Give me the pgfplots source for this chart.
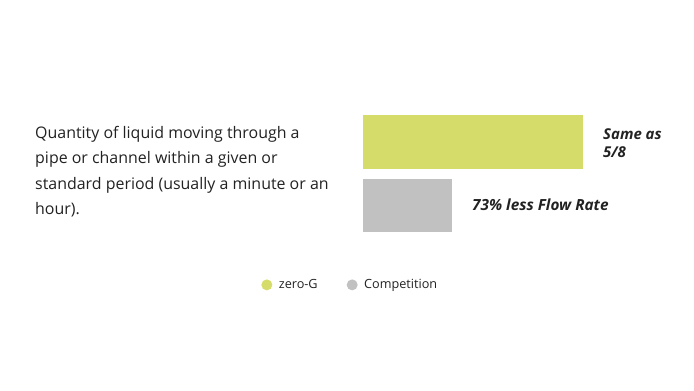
\documentclass[border=0pt]{standalone}
\usepackage{pgfplots}
\pgfplotsset{compat=1.18}
\usepackage{fontspec}
\setmainfont{Open Sans}
\definecolor{zgreen}{HTML}{D5DC69}
\definecolor{cgray}{HTML}{C1C1C1}
\definecolor{txt}{HTML}{222222}
\begin{document}
\begin{tikzpicture}[x=1bp,y=1bp]
\path[use as bounding box] (0,0) rectangle (694,390);
\begin{axis}[
  at={(363bp,152.75bp)}, anchor=south west,
  width=220bp, height=127bp, scale only axis,
  xmin=0, xmax=100, ymin=-0.5, ymax=1.5,
  axis lines=none, xbar, bar width=0.85, bar shift=0pt,
  legend columns=2,
  legend style={draw=none, fill=none, at={(-0.058,-0.375)}, anchor=center,
    font=\fontsize{12.7}{15}\selectfont\color{txt},
    /tikz/every even column/.style={column sep=27bp}},
  legend image code/.code={\fill[#1] (0bp,0bp) circle (5.5bp); \path (10bp,0bp);},
  clip=false,
]
\addplot[fill=zgreen, draw=none] coordinates {(100,1)};
\addplot[fill=cgray, draw=none] coordinates {(40.5,0)};
\legend{zero-G, Competition}
\end{axis}
\begin{scope}[every node/.style={anchor=base west, inner sep=0pt, text=txt, font=\fontsize{16}{18}\selectfont}]
\node at (35,252) {Quantity of liquid moving through a};
\node at (35,226.5) {pipe or channel within a given or};
\node at (35,201) {standard period (usually a minute or an};
\node at (35,175.5) {hour).};
\end{scope}
\begin{scope}[every node/.style={anchor=base west, inner sep=0pt, text=txt, font=\fontsize{15}{18}\selectfont\bfseries\itshape}]
\node at (603,251) {Same as};
\node at (603,233) {5/8};
\node at (472,180) {\fontsize{15.4}{18}\selectfont 73\% less Flow Rate};
\end{scope}
\end{tikzpicture}
\end{document}
